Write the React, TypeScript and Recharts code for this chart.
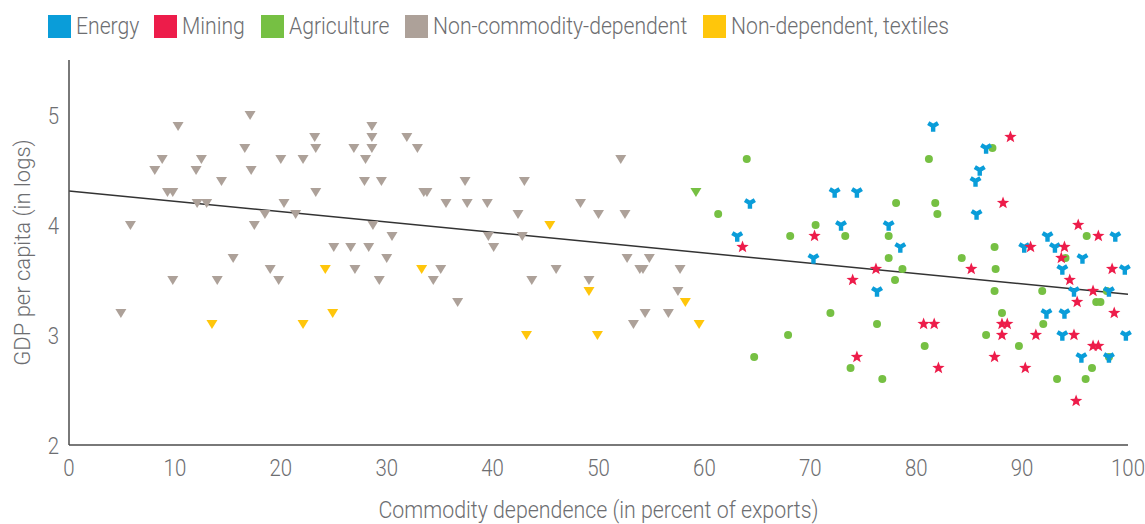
import React from "react";
import {
  ScatterChart,
  Scatter,
  XAxis,
  YAxis,
  ReferenceLine,
} from "recharts";

// [commodity dependence %, log GDP per capita]
const energy: [number, number][] = [
  [64.3, 4.2], [63.1, 3.9], [70.3, 3.7], [72.3, 4.3], [74.4, 4.3], [72.9, 4.0],
  [77.4, 4.0], [78.5, 3.8], [76.3, 3.4], [81.6, 4.9], [86.6, 4.7], [86.0, 4.5],
  [85.6, 4.4], [85.7, 4.1], [92.4, 3.9], [98.8, 3.9], [90.2, 3.8], [93.1, 3.8],
  [95.7, 3.7], [93.8, 3.6], [99.7, 3.6], [94.9, 3.4], [98.2, 3.4], [92.3, 3.2],
  [94.0, 3.2], [93.8, 3.0], [99.8, 3.0], [95.6, 2.8], [98.2, 2.8],
];

const mining: [number, number][] = [
  [63.6, 3.8], [70.4, 3.9], [76.2, 3.6], [74.0, 3.5], [85.2, 3.6], [88.9, 4.8],
  [88.2, 4.2], [95.3, 4.0], [97.2, 3.9], [90.8, 3.8], [94.0, 3.8], [93.7, 3.7],
  [94.5, 3.5], [98.5, 3.6], [96.7, 3.4], [95.2, 3.3], [98.7, 3.2], [80.7, 3.1],
  [81.7, 3.1], [88.1, 3.1], [88.6, 3.1], [88.1, 3.0], [91.3, 3.0], [94.9, 3.0],
  [96.7, 2.9], [97.2, 2.9], [74.4, 2.8], [87.4, 2.8], [82.1, 2.7], [90.3, 2.7],
  [95.1, 2.4],
];

const agriculture: [number, number][] = [
  [64.0, 4.6], [61.3, 4.1], [68.1, 3.9], [70.5, 4.0], [73.3, 3.9], [78.1, 4.2],
  [77.4, 3.9], [77.4, 3.7], [78.7, 3.6], [78.0, 3.5], [81.2, 4.6], [81.8, 4.2],
  [82.0, 4.1], [84.3, 3.7], [87.2, 4.7], [87.4, 3.8], [87.5, 3.6], [96.1, 3.9],
  [94.1, 3.7], [87.4, 3.4], [91.9, 3.4], [98.0, 3.4], [97.0, 3.3], [97.4, 3.3],
  [71.9, 3.2], [88.1, 3.2], [76.3, 3.1], [92.0, 3.1], [67.9, 3.0], [86.6, 3.0],
  [80.8, 2.9], [89.7, 2.9], [64.7, 2.8], [98.2, 2.8], [73.8, 2.7], [96.6, 2.7],
  [76.8, 2.6], [93.3, 2.6], [96.0, 2.6],
];

const agricultureTriangle: [number, number][] = [[59.2, 4.3]];

const nonCommodity: [number, number][] = [
  [17.1, 5.0],
  [10.3, 4.9], [28.6, 4.9],
  [23.2, 4.8], [28.6, 4.8], [31.9, 4.8],
  [16.6, 4.7], [23.3, 4.7], [26.9, 4.7], [28.6, 4.7], [32.9, 4.7],
  [8.8, 4.6], [12.5, 4.6], [20.0, 4.6], [22.1, 4.6], [28.0, 4.6], [52.1, 4.6],
  [8.1, 4.5], [12.0, 4.5], [17.2, 4.5],
  [14.4, 4.4], [27.9, 4.4], [29.5, 4.4], [37.4, 4.4], [43.0, 4.4],
  [9.3, 4.3], [9.8, 4.3], [23.3, 4.3], [33.5, 4.3], [33.8, 4.3],
  [12.1, 4.2], [13.0, 4.2], [20.3, 4.2], [35.6, 4.2], [37.6, 4.2], [39.5, 4.2], [48.3, 4.2],
  [18.5, 4.1], [21.4, 4.1], [42.4, 4.1], [50.0, 4.1], [52.5, 4.1],
  [5.8, 4.0], [17.5, 4.0], [28.7, 4.0],
  [30.5, 3.9], [39.6, 3.9], [42.8, 3.9],
  [25.0, 3.8], [26.6, 3.8], [28.3, 3.8], [40.1, 3.8],
  [15.5, 3.7], [30.0, 3.7], [52.7, 3.7], [54.8, 3.7],
  [19.0, 3.6], [27.0, 3.6], [35.1, 3.6], [46.0, 3.6], [53.9, 3.6], [54.2, 3.6], [57.7, 3.6],
  [9.8, 3.5], [14.0, 3.5], [19.8, 3.5], [29.3, 3.5], [34.4, 3.5], [43.7, 3.5], [49.1, 3.5],
  [57.5, 3.4],
  [36.7, 3.3],
  [4.9, 3.2], [54.4, 3.2], [56.6, 3.2],
  [53.3, 3.1],
];

const textiles: [number, number][] = [
  [24.2, 3.6], [24.9, 3.2], [13.5, 3.1], [22.1, 3.1], [45.4, 4.0], [33.3, 3.6],
  [49.1, 3.4], [58.2, 3.3], [59.5, 3.1], [43.2, 3.0], [49.9, 3.0],
];

const fitX = [0, 100];
const fitY = [4.31, 3.37];

const xTicks = [0, 10, 20, 30, 40, 50, 60, 70, 80, 90, 100];
const yTicks = [2, 3, 4, 5];

const legendNames = [
  "Energy",
  "Mining",
  "Agriculture",
  "Non-commodity-dependent",
  "Non-dependent, textiles",
];
const legendColors = ["#0a9dd9", "#ed1c4a", "#76c043", "#ada199", "#ffc60b"];
const legendLeft = [48, 154, 261, 405, 703];

const toPoints = (arr: [number, number][]) => arr.map(([x, y]) => ({ x, y }));

const TEXT = "#6d6e71";
const squeeze = (k: number): React.CSSProperties => ({
  transform: `scaleX(${k})`,
  transformBox: "fill-box",
  transformOrigin: "center",
});

function TriangleDown(props: any) {
  const { cx, cy, fill } = props;
  const w = 5.5;
  return (
    <path
      d={`M${cx - w},${cy - 4} L${cx + w},${cy - 4} L${cx},${cy + 5} Z`}
      fill={fill}
    />
  );
}

function Dot(props: any) {
  const { cx, cy, fill } = props;
  return <circle cx={cx} cy={cy} r={4} fill={fill} />;
}

function Star(props: any) {
  const { cx, cy, fill } = props;
  const outer = 6.5;
  const inner = 2.7;
  let d = "";
  for (let i = 0; i < 10; i++) {
    const r = i % 2 === 0 ? outer : inner;
    const a = -Math.PI / 2 + (i * Math.PI) / 5;
    d += `${i === 0 ? "M" : "L"}${cx + r * Math.cos(a)},${cy + r * Math.sin(a)} `;
  }
  return <path d={d + "Z"} fill={fill} />;
}

// d3-style wye, stem pointing down
function Wye(props: any) {
  const { cx, cy, fill } = props;
  const c = -0.5;
  const s = Math.sqrt(3) / 2;
  const k = 1 / Math.sqrt(12);
  const r = 4.4;
  const x0 = r / 2, y0 = r * k;
  const x1 = x0, y1 = r * k + r;
  const x2 = -x1, y2 = y1;
  const pts = [
    [x0, y0], [x1, y1], [x2, y2],
    [c * x0 - s * y0, s * x0 + c * y0],
    [c * x1 - s * y1, s * x1 + c * y1],
    [c * x2 - s * y2, s * x2 + c * y2],
    [c * x0 + s * y0, c * y0 - s * x0],
    [c * x1 + s * y1, c * y1 - s * x1],
    [c * x2 + s * y2, c * y2 - s * x2],
  ];
  const d =
    pts.map(([px, py], i) => `${i === 0 ? "M" : "L"}${cx + px},${cy + py}`).join(" ") + " Z";
  return <path d={d} fill={fill} />;
}

export default function App() {
  const tickStyle = {
    fill: TEXT,
    fontSize: 24,
    fontWeight: 300,
    fontFamily: "Roboto",
    style: squeeze(0.85),
  };

  return (
    <div
      style={{
        position: "absolute",
        left: 0,
        top: 0,
        width: 1145,
        height: 524,
        background: "#fff",
        fontFamily: "Roboto",
      }}
    >
      {legendNames.map((name, i) => (
        <div
          key={name}
          style={{
            position: "absolute",
            left: legendLeft[i],
            top: 15,
            display: "flex",
            alignItems: "center",
            whiteSpace: "nowrap",
          }}
        >
          <div
            style={{
              width: 23,
              height: 23,
              background: legendColors[i],
              marginRight: 5,
            }}
          />
          <span
            style={{
              fontSize: 23.5,
              fontWeight: 300,
              color: TEXT,
              display: "inline-block",
              transform: "scaleX(0.9)",
              transformOrigin: "left center",
              lineHeight: "23px",
            }}
          >
            {name}
          </span>
        </div>
      ))}
      <ScatterChart
        width={1145}
        height={524}
        margin={{ top: 60, right: 17, bottom: 0, left: 0 }}
      >
        <XAxis
          type="number"
          dataKey="x"
          domain={[0, 100]}
          ticks={xTicks}
          interval={0}
          height={79}
          axisLine={{ stroke: "#4d4d4d", strokeWidth: 1.5 }}
          tickLine={false}
          tickSize={0}
          tickMargin={14}
          tick={tickStyle}
          label={{
            value: "Commodity dependence (in percent of exports)",
            position: "insideBottom",
            offset: 6,
            fill: TEXT,
            fontSize: 24,
            fontWeight: 300,
            fontFamily: "Roboto",
            style: squeeze(0.89),
          }}
        />
        <YAxis
          type="number"
          dataKey="y"
          domain={[2, 5.5]}
          ticks={yTicks}
          interval={0}
          width={69}
          axisLine={{ stroke: "#4d4d4d", strokeWidth: 1.5 }}
          tickLine={false}
          tickSize={0}
          tickMargin={9}
          tick={tickStyle}
          label={{
            value: "GDP per capita (in logs)",
            angle: -90,
            position: "insideLeft",
            offset: 22,
            fill: TEXT,
            fontSize: 22,
            fontWeight: 300,
            fontFamily: "Roboto",
            style: { textAnchor: "middle" },
          }}
        />
        <Scatter
          name="Non-commodity-dependent"
          data={toPoints(nonCommodity)}
          fill={legendColors[3]}
          shape={(p: any) => <TriangleDown {...p} />}
          isAnimationActive={false}
        />
        <Scatter
          name="Non-dependent, textiles"
          data={toPoints(textiles)}
          fill={legendColors[4]}
          shape={(p: any) => <TriangleDown {...p} />}
          isAnimationActive={false}
        />
        <Scatter
          name="Agriculture (triangle)"
          data={toPoints(agricultureTriangle)}
          fill={legendColors[2]}
          shape={(p: any) => <TriangleDown {...p} />}
          isAnimationActive={false}
        />
        <Scatter
          name="Agriculture"
          data={toPoints(agriculture)}
          fill={legendColors[2]}
          shape={(p: any) => <Dot {...p} />}
          isAnimationActive={false}
        />
        <Scatter
          name="Energy"
          data={toPoints(energy)}
          fill={legendColors[0]}
          shape={(p: any) => <Wye {...p} />}
          isAnimationActive={false}
        />
        <Scatter
          name="Mining"
          data={toPoints(mining)}
          fill={legendColors[1]}
          shape={(p: any) => <Star {...p} />}
          isAnimationActive={false}
        />
        <ReferenceLine
          segment={[
            { x: fitX[0], y: fitY[0] },
            { x: fitX[1], y: fitY[1] },
          ]}
          stroke="#333333"
          strokeWidth={1.5}
        />
      </ScatterChart>
    </div>
  );
}
